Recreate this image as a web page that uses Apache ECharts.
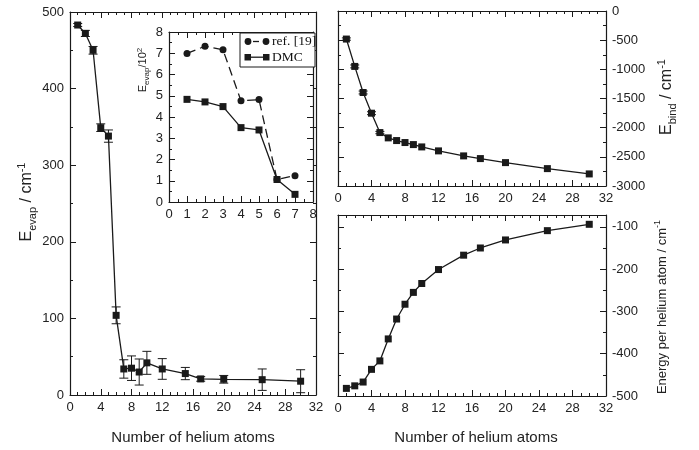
<!DOCTYPE html>
<html lang="en">
<head>
  <meta charset="UTF-8">
  <title>Helium cluster energies</title>
  <script src="https://cdn.jsdelivr.net/npm/echarts@6/dist/echarts.min.js"></script>
  <style>
    body { margin: 0; background: #fff; }
    #chart { width: 699px; height: 450px; }
  </style>
</head>
<body>
  <div id="chart"></div>
  <script>
    // data
    const nAtoms = [1, 2, 3, 4, 5, 6, 7, 8, 9, 10, 12, 15, 17, 20, 25, 30];
    const evap = [483, 472, 450, 349, 338, 104, 34, 35, 30, 42, 34, 28, 21, 20.5, 20, 18];
    const evapErr = [2, 4, 5, 5, 8, 11, 12, 16, 17, 15, 13.5, 8, 3, 5, 14, 15];
    const insetN = [1, 2, 3, 4, 5, 6, 7];
    const refEvap = [6.99, 7.33, 7.16, 4.76, 4.82, 1.06, 1.24];
    const dmcEvap = [4.83, 4.71, 4.49, 3.5, 3.39, 1.06, 0.36];
    const bind = [-481, -950, -1397, -1752, -2084, -2175, -2221, -2255, -2290, -2330, -2398, -2484, -2530, -2599, -2702, -2793];
    const bindErr = [20, 25, 25, 25, 20, 0, 0, 0, 0, 0, 0, 0, 0, 0, 0, 0];
    const perAtom = [-482, -476, -467, -437, -417, -365, -318, -283, -255, -234, -201, -167, -150, -131, -109, -94];

    const ink = '#1a1a1a';
    const sans = 'Liberation Sans';
    const pairs = (xs, ys) => xs.map((x, i) => [x, ys[i]]);
    const triples = (xs, ys, es) => xs.map((x, i) => [x, ys[i], es[i]]);

    function axis(gi, pos, min, max, step, minor, showLabel, z) {
      return {
        type: 'value', gridIndex: gi, position: pos, min: min, max: max, interval: step, z: z || 0,
        axisLine: { show: true, onZero: false, lineStyle: { color: ink, width: 1.2 } },
        axisTick: { show: true, inside: true, length: 6, lineStyle: { color: ink } },
        minorTick: { show: true, splitNumber: minor, length: 3, lineStyle: { color: ink } },
        splitLine: { show: false },
        axisLabel: {
          show: showLabel, margin: 6, color: '#222', fontSize: 13, fontFamily: sans,
          showMaxLabel: showLabel && max !== -72,
          formatter: v => String(v)
        }
      };
    }

    function errorBar(params, api) {
      const e = api.value(2);
      if (!e) return;
      const hi = api.coord([api.value(0), api.value(1) + e]);
      const lo = api.coord([api.value(0), api.value(1) - e]);
      const w = 4.5;
      const style = { stroke: ink, lineWidth: 1 };
      return {
        type: 'group',
        children: [
          { type: 'line', shape: { x1: hi[0], y1: hi[1], x2: lo[0], y2: lo[1] }, style: style },
          { type: 'line', shape: { x1: hi[0] - w, y1: hi[1], x2: hi[0] + w, y2: hi[1] }, style: style },
          { type: 'line', shape: { x1: lo[0] - w, y1: lo[1], x2: lo[0] + w, y2: lo[1] }, style: style }
        ]
      };
    }

    function lineSeries(xi, yi, data, symbol, dashed, z) {
      return {
        type: 'line', xAxisIndex: xi, yAxisIndex: yi, data: data, z: z || 2,
        symbol: symbol, symbolSize: 7,
        lineStyle: { color: ink, width: 1.3, type: dashed ? [9, 5] : 'solid' },
        itemStyle: { color: ink }
      };
    }

    const big = { fontSize: 16, lineHeight: 22, fontFamily: sans, fill: '#222' };
    const sub = { fontSize: 11, lineHeight: 11, verticalAlign: 'bottom', fontFamily: sans, fill: '#222' };
    const sup = { fontSize: 11, lineHeight: 11, verticalAlign: 'top', fontFamily: sans, fill: '#222' };

    function vText(x, y, text, rich) {
      return {
        type: 'text', x: x, y: y, rotation: Math.PI / 2, z: 10,
        style: { text: text, rich: rich, align: 'center', verticalAlign: 'middle' }
      };
    }
    function hText(x, y, text) {
      return {
        type: 'text', x: x, y: y, z: 10,
        style: { text: text, fontSize: 15, fontFamily: sans, fill: '#222', align: 'center', verticalAlign: 'middle' }
      };
    }

    const legendFont = { fontSize: 13.5, fontFamily: 'Liberation Serif', fill: '#111', verticalAlign: 'middle' };

    // legend box drawn inside the inset
    const legend = [
      { type: 'rect', shape: { x: 240, y: 33, width: 75, height: 34 }, style: { fill: '#fff', stroke: ink, lineWidth: 1 } },
      { type: 'circle', shape: { cx: 248, cy: 41.5, r: 3.4 }, style: { fill: ink } },
      { type: 'line', shape: { x1: 253, y1: 41.5, x2: 259, y2: 41.5 }, style: { stroke: ink, lineWidth: 1.3 } },
      { type: 'circle', shape: { cx: 266, cy: 41.5, r: 3.4 }, style: { fill: ink } },
      { type: 'text', x: 272, y: 41.5, style: Object.assign({ text: 'ref. [19]' }, legendFont) },
      { type: 'rect', shape: { x: 244.5, y: 54, width: 6.5, height: 6.5 }, style: { fill: ink } },
      { type: 'line', shape: { x1: 251, y1: 57.2, x2: 263, y2: 57.2 }, style: { stroke: ink, lineWidth: 1.3 } },
      { type: 'rect', shape: { x: 263, y: 54, width: 6.5, height: 6.5 }, style: { fill: ink } },
      { type: 'text', x: 272, y: 57.5, style: Object.assign({ text: 'DMC' }, legendFont) }
    ].map((el, i) => Object.assign({ z: 20 + (i === 0 ? 0 : 1) }, el));

    const chart = echarts.init(document.getElementById('chart'));
    chart.setOption({
      animation: false,
      backgroundColor: '#fff',
      grid: [
        { left: 70, right: 383, top: 12, bottom: 55 },
        { left: 169, right: 386, top: 32, bottom: 248, show: true, backgroundColor: '#fff', borderWidth: 0, z: 3 },
        { left: 338, right: 93, top: 11, bottom: 264 },
        { left: 338, right: 93, top: 215, bottom: 54 }
      ],
      xAxis: [
        axis(0, 'bottom', 0, 32, 4, 4, true),
        axis(0, 'top', 0, 32, 4, 4, false),
        axis(1, 'bottom', 0, 8, 1, 2, true, 4),
        axis(1, 'top', 0, 8, 1, 2, false, 4),
        axis(2, 'bottom', 0, 32, 4, 4, true),
        axis(2, 'top', 0, 32, 4, 4, false),
        axis(3, 'bottom', 0, 32, 4, 4, true),
        axis(3, 'top', 0, 32, 4, 4, false)
      ],
      yAxis: [
        axis(0, 'left', 0, 500, 100, 2, true),
        axis(0, 'right', 0, 500, 100, 2, false),
        axis(1, 'left', 0, 8, 1, 2, true, 4),
        axis(1, 'right', 0, 8, 1, 2, false, 4),
        axis(2, 'right', -3000, 0, 500, 2, true),
        axis(2, 'left', -3000, 0, 500, 2, false),
        axis(3, 'right', -500, -72, 100, 2, true),
        axis(3, 'left', -500, -72, 100, 2, false)
      ],
      series: [
        lineSeries(0, 0, pairs(nAtoms, evap), 'rect', false),
        { type: 'custom', xAxisIndex: 0, yAxisIndex: 0, renderItem: errorBar, data: triples(nAtoms, evap, evapErr), z: 3 },
        lineSeries(2, 2, pairs(insetN, refEvap), 'circle', true, 5),
        lineSeries(2, 2, pairs(insetN, dmcEvap), 'rect', false, 5),
        lineSeries(4, 4, pairs(nAtoms, bind), 'rect', false),
        { type: 'custom', xAxisIndex: 4, yAxisIndex: 4, renderItem: errorBar, data: triples(nAtoms, bind, bindErr), z: 3 },
        lineSeries(6, 6, pairs(nAtoms, perAtom), 'rect', false)
      ],
      graphic: [
        vText(27, 202, '{n|E}{s|evap}{n| / cm}{p|-1}', { n: big, s: sub, p: sup }),
        vText(667, 97, '{n|E}{s|bind}{n| / cm}{p|-1}', { n: big, s: sub, p: sup }),
        vText(662, 307, '{n|Energy per helium atom / cm}{p|-1}', {
          n: { fontSize: 13, lineHeight: 18, fontFamily: sans, fill: '#222' },
          p: { fontSize: 9, lineHeight: 9, verticalAlign: 'top', fontFamily: sans, fill: '#222' }
        }),
        vText(143, 70, '{n|E}{s|evap}{n|/10}{p|2}', {
          n: { fontSize: 11, lineHeight: 15, fontFamily: sans, fill: '#222' },
          s: { fontSize: 8, lineHeight: 8, verticalAlign: 'bottom', fontFamily: sans, fill: '#222' },
          p: { fontSize: 8, lineHeight: 8, verticalAlign: 'top', fontFamily: sans, fill: '#222' }
        }),
        hText(193, 438, 'Number of helium atoms'),
        hText(476, 438, 'Number of helium atoms')
      ].concat(legend)
    });
  </script>
</body>
</html>
